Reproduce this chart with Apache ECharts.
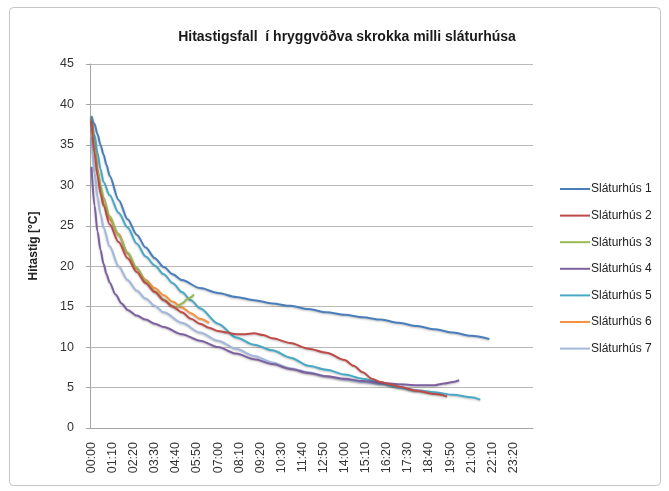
<!DOCTYPE html>
<html>
<head>
<meta charset="utf-8">
<script src="https://cdn.jsdelivr.net/npm/echarts@6/dist/echarts.min.js"></script>
<style>
  html, body { margin: 0; padding: 0; background: #ffffff; }
  #chart { width: 669px; height: 491px; }
</style>
</head>
<body>
<div id="chart"></div>
<script>
// Cooling of carcass loin muscle, readings every 10 minutes from 00:00
const titleText = 'Hitastigsfall  í hryggvöðva skrokka milli sláturhúsa';
const yAxisTitle = 'Hitastig [°C]';
const seriesNames = ['Sláturhús 1', 'Sláturhús 2', 'Sláturhús 3', 'Sláturhús 4', 'Sláturhús 5', 'Sláturhús 6', 'Sláturhús 7'];
const seriesColors = ['#4A7EBB', '#BE4B48', '#98B954', '#7D60A0', '#46AAC5', '#F69240', '#A3B8DC'];
const yTicks = [0, 5, 10, 15, 20, 25, 30, 35, 40, 45];

// Reading times (minutes after start) and temperatures for each slaughterhouse
const s1Min = [0, 10, 20, 30, 40, 50, 60, 90, 120, 150, 180, 210, 240, 270, 300, 360, 420, 480, 540, 600, 660, 720, 780, 840, 900, 960, 1020, 1080, 1140, 1200, 1260, 1320];
const s1Val = [38.5, 37.6, 36.3, 35.0, 33.8, 32.5, 31.2, 28.2, 25.8, 23.9, 22.3, 21.0, 19.9, 19.0, 18.3, 17.3, 16.7, 16.2, 15.8, 15.4, 15.1, 14.7, 14.3, 14.0, 13.7, 13.4, 13.0, 12.6, 12.2, 11.8, 11.4, 11.0];

const s2Min = [0, 10, 20, 30, 40, 60, 90, 120, 150, 180, 210, 240, 270, 300, 330, 360, 390, 420, 450, 480, 510, 540, 570, 600, 660, 720, 780, 840, 870, 900, 930, 960, 990, 1020, 1080, 1140, 1180];
const s2Val = [38.0, 34.0, 31.2, 29.0, 27.5, 25.2, 23.0, 21.0, 19.3, 17.9, 16.8, 15.8, 15.0, 14.3, 13.5, 12.9, 12.4, 12.0, 11.8, 11.6, 11.6, 11.7, 11.5, 11.1, 10.5, 9.8, 9.3, 8.4, 7.7, 6.9, 6.1, 5.7, 5.4, 5.1, 4.6, 4.2, 3.9];

const s3Min = [0, 10, 20, 30, 40, 60, 90, 120, 150, 180, 210, 240, 270, 280, 300, 320, 340];
const s3Val = [38.5, 34.5, 31.8, 30.0, 28.5, 26.2, 23.8, 21.7, 19.8, 18.1, 16.9, 15.9, 15.1, 14.9, 15.4, 16.0, 16.5];

const s4Min = [0, 10, 20, 30, 40, 50, 60, 80, 100, 120, 150, 180, 210, 240, 300, 360, 420, 480, 540, 600, 660, 720, 780, 840, 900, 960, 1020, 1080, 1140, 1170, 1200, 1220];
const s4Val = [32.3, 27.5, 24.3, 22.0, 20.3, 19.0, 18.0, 16.5, 15.4, 14.6, 13.9, 13.4, 12.9, 12.5, 11.6, 10.8, 10.0, 9.2, 8.5, 7.9, 7.3, 6.8, 6.4, 6.1, 5.8, 5.6, 5.4, 5.3, 5.3, 5.5, 5.7, 5.9];

const s5Min = [0, 10, 20, 30, 40, 60, 90, 120, 150, 180, 210, 240, 270, 300, 330, 360, 420, 480, 540, 600, 660, 720, 780, 840, 900, 960, 1020, 1080, 1140, 1200, 1260, 1290];
const s5Val = [38.6, 36.2, 34.0, 32.0, 30.4, 28.8, 26.6, 24.8, 22.8, 21.2, 20.1, 19.0, 17.9, 16.8, 15.8, 14.8, 12.9, 11.2, 10.3, 9.6, 8.7, 7.7, 7.2, 6.6, 6.1, 5.6, 5.0, 4.6, 4.4, 4.1, 3.8, 3.5];

const s6Min = [0, 10, 20, 30, 40, 60, 90, 120, 150, 180, 210, 240, 270, 300, 330, 360, 390];
const s6Val = [38.3, 35.0, 32.0, 29.5, 27.7, 25.8, 24.0, 21.6, 19.7, 18.3, 17.3, 16.4, 15.6, 14.9, 14.2, 13.5, 13.0];

const s7Min = [0, 10, 20, 30, 40, 60, 90, 120, 150, 180, 210, 240, 300, 360, 420, 480, 540, 600, 660, 720, 780, 840, 900, 960, 1020, 1080, 1140, 1170];
const s7Val = [36.0, 31.5, 28.5, 26.5, 24.8, 22.5, 20.0, 18.3, 17.0, 16.0, 15.1, 14.3, 13.0, 11.8, 10.8, 9.8, 8.9, 8.1, 7.4, 6.9, 6.4, 6.0, 5.7, 5.4, 5.1, 4.7, 4.4, 4.2];

// Time-of-day categories in 10 minute steps
const slotCount = 147;
const categories = [];
for (let i = 0; i < slotCount; i++) {
  const m = i * 10;
  const hh = String(Math.floor(m / 60)).padStart(2, '0');
  const mm = String(m % 60).padStart(2, '0');
  categories.push(hh + ':' + mm);
}

const allMin = [s1Min, s2Min, s3Min, s4Min, s5Min, s6Min, s7Min];
const allVal = [s1Val, s2Val, s3Val, s4Val, s5Val, s6Val, s7Val];

const FONT = '"Liberation Sans", Arial, sans-serif';

const series = seriesNames.map((name, k) => ({
  name: name,
  type: 'line',
  showSymbol: false,
  symbol: 'none',
  smooth: 0.3,
  smoothMonotone: 'x',
  data: allMin[k].map((m, j) => [m / 10, allVal[k][j]]),
  lineStyle: {
    color: seriesColors[k],
    width: 2,
    shadowColor: 'rgba(0,0,0,0.25)',
    shadowBlur: 2,
    shadowOffsetY: 1
  },
  itemStyle: { color: seriesColors[k] },
  z: 10 - k
}));

const chart = echarts.init(document.getElementById('chart'), null, { renderer: 'canvas' });
chart.setOption({
  animation: false,
  backgroundColor: '#ffffff',
  title: {
    text: titleText,
    left: 342,
    textAlign: 'center',
    top: 25,
    textStyle: { fontFamily: FONT, fontSize: 14, fontWeight: 'bold', color: '#1a1a1a' }
  },
  graphic: [{
    type: 'rect',
    shape: { x: 9.5, y: 7.5, width: 651, height: 478, r: 4 },
    style: { fill: 'none', stroke: '#c4c4c4', lineWidth: 1 },
    silent: true
  }],
  legend: {
    orient: 'vertical',
    left: 555,
    top: 177,
    itemWidth: 30,
    itemHeight: 2,
    itemGap: 12.6,
    icon: 'rect',
    textStyle: { fontFamily: FONT, fontSize: 12, lineHeight: 14, color: '#222', padding: [0, 0, 0, -4] },
    data: seriesNames
  },
  grid: { left: 90, right: 136, top: 64, bottom: 63, containLabel: false },
  xAxis: {
    type: 'category',
    data: categories,
    boundaryGap: true,
    axisLine: { lineStyle: { color: '#a6a6a6', width: 1 } },
    axisTick: { show: false },
    axisLabel: {
      interval: 6,
      rotate: 90,
      margin: 14,
      fontFamily: FONT,
      fontSize: 12.5,
      color: '#333'
    },
    splitLine: { show: false }
  },
  yAxis: {
    type: 'value',
    min: yTicks[0],
    max: yTicks[yTicks.length - 1],
    interval: 5,
    name: yAxisTitle,
    nameLocation: 'middle',
    nameRotate: 90,
    nameGap: 50,
    nameTextStyle: { fontFamily: FONT, fontSize: 12, fontWeight: 'bold', color: '#222' },
    axisLine: { show: true, lineStyle: { color: '#a6a6a6', width: 1 } },
    axisTick: { show: true, length: 4, lineStyle: { color: '#a6a6a6' } },
    axisLabel: { fontFamily: FONT, fontSize: 12.5, color: '#333', margin: 16 },
    splitLine: { show: true, lineStyle: { color: '#b8b8b8', width: 1 } }
  },
  series: series
});
</script>
</body>
</html>
